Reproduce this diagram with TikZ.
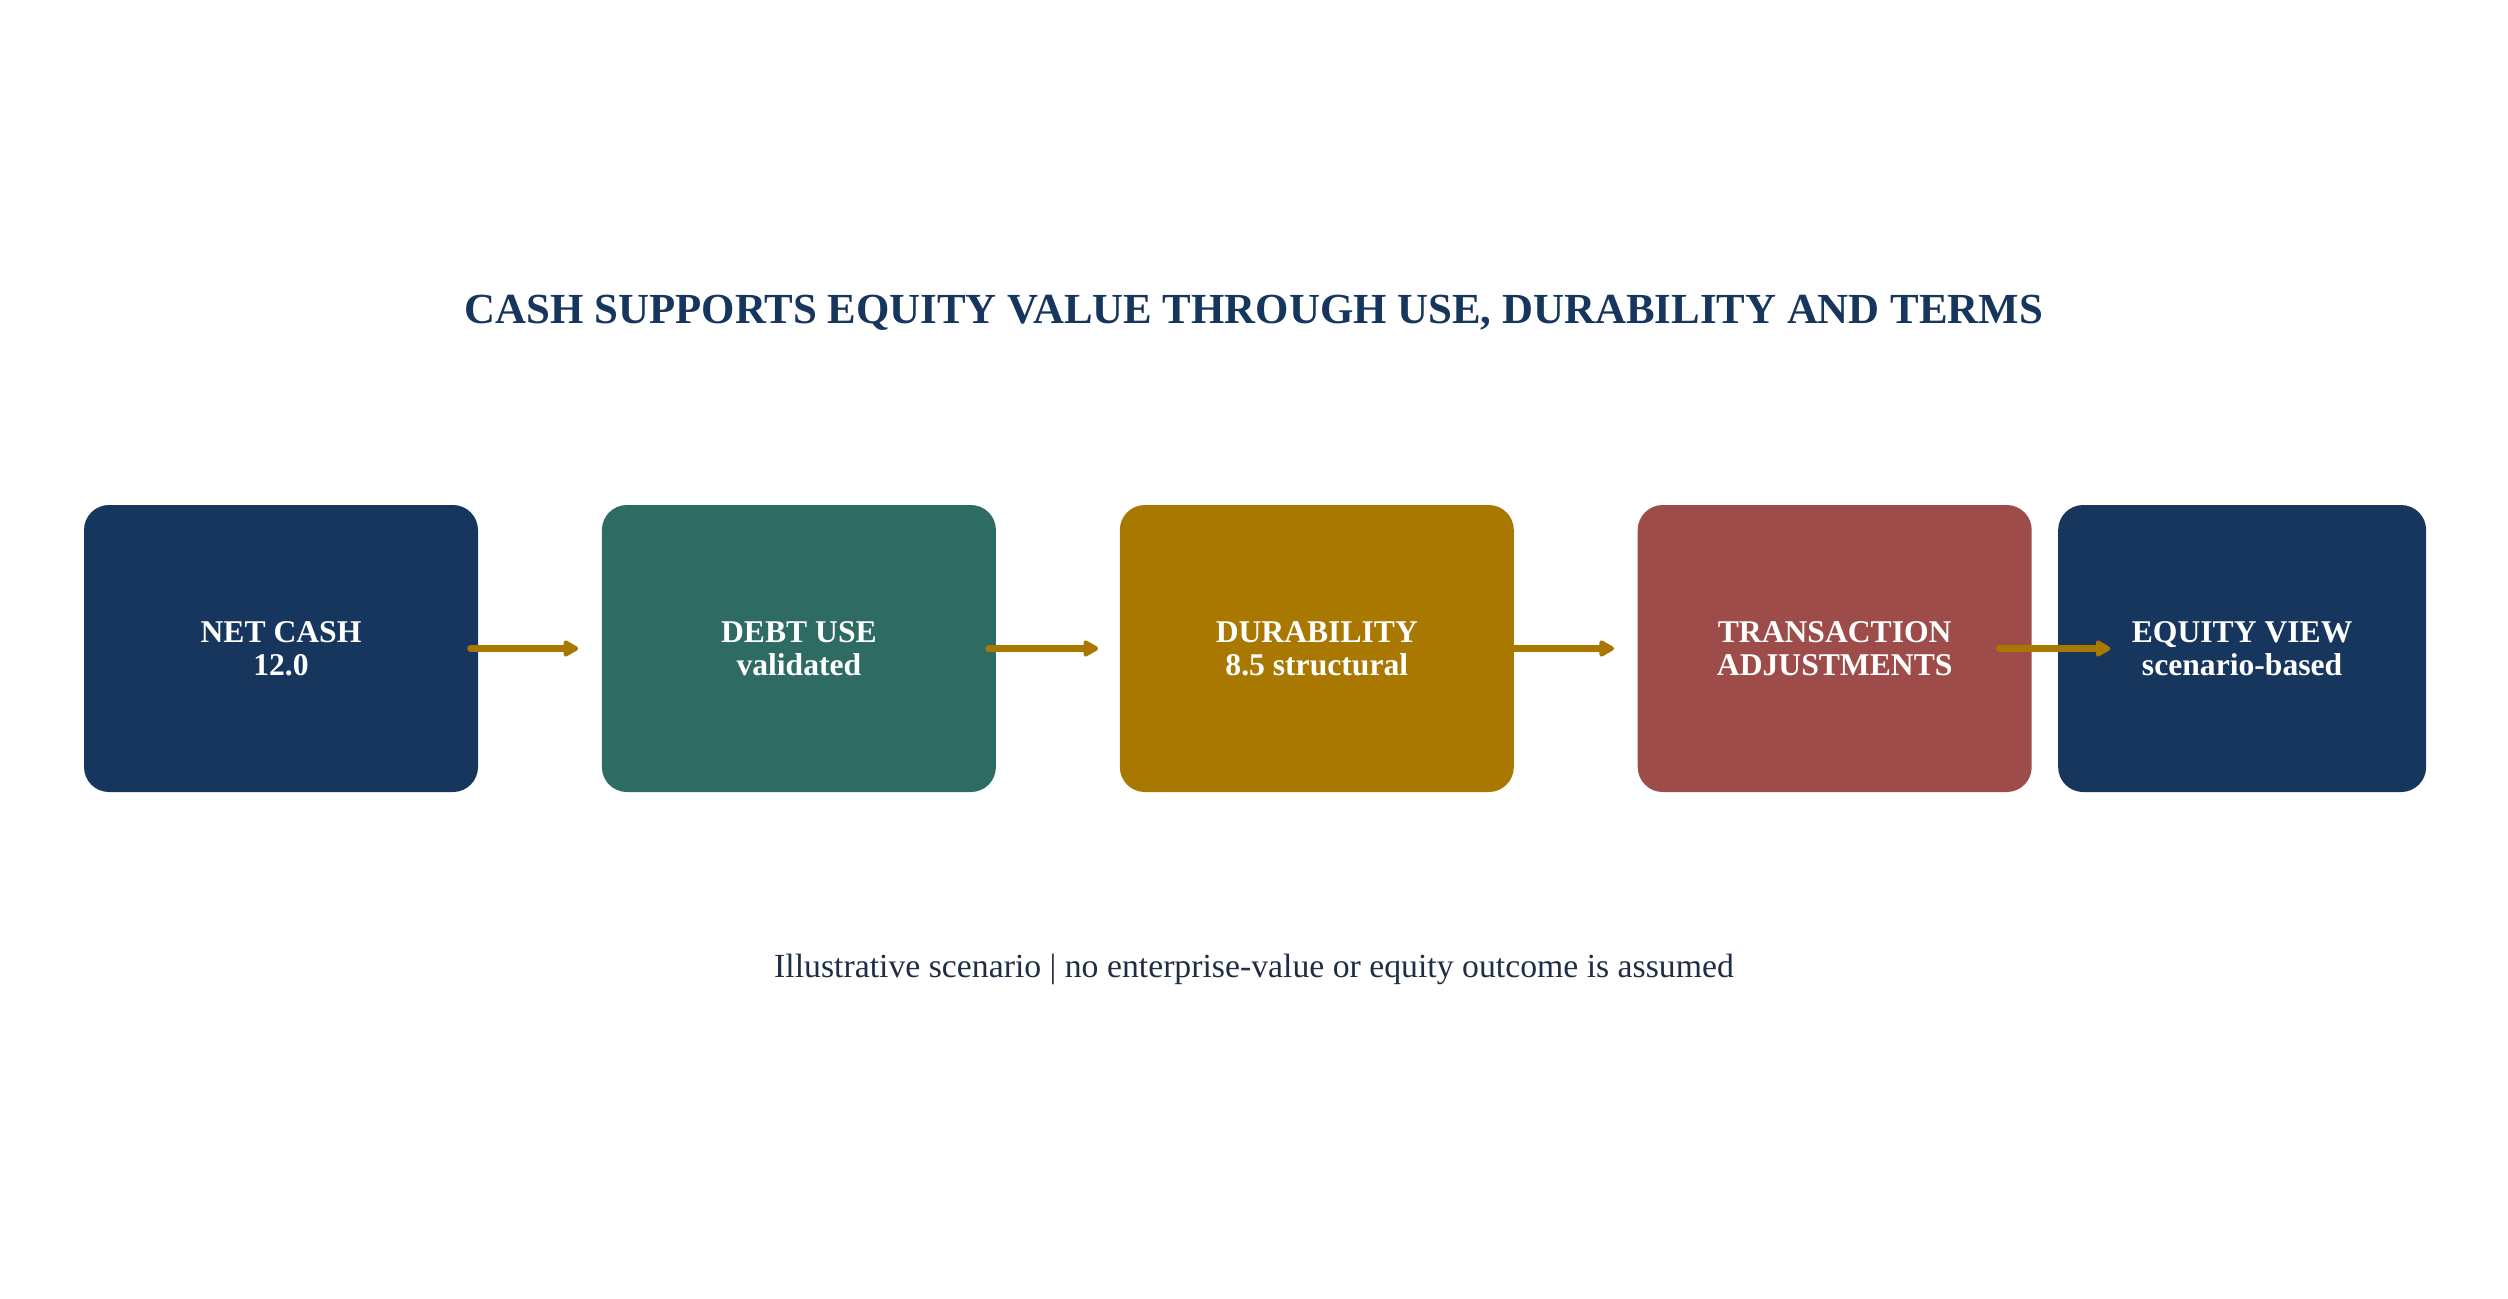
\documentclass[tikz,border=0pt]{standalone}
\usepackage{fontspec}
\setmainfont{Liberation Serif}
\usepackage{tikz}
\usetikzlibrary{arrows.meta,calc,positioning}

\definecolor{navy}{HTML}{17365D}
\definecolor{teal}{HTML}{2E6B62}
\definecolor{gold}{HTML}{A87800}
\definecolor{brick}{HTML}{9E4C49}
\definecolor{ink}{HTML}{1F2D45}

\begin{document}
\begin{tikzpicture}[
  box/.style={rounded corners=0.25cm, minimum width=3.94cm, minimum height=2.87cm, inner sep=0pt, align=center, text=white, font=\fontsize{9}{9.5}\selectfont\bfseries},
  flow/.style={draw=gold, line width=2pt, line cap=round, -{Triangle[length=0.17cm,width=0.18cm,round]}}
]
\useasboundingbox (0,0) rectangle (25.08,-12.98);

\node (title) at (12.54,-3.13) [text=navy, font=\fontsize{12.2}{14}\selectfont\bfseries]{CASH SUPPORTS EQUITY VALUE THROUGH USE, DURABILITY AND TERMS};

\node (cash) at (2.81,-6.485) [box, fill=navy]{NET CASH\\12.0};
\node (debt) [box, fill=teal, right=1.225cm of cash]{DEBT USE\\validated};
\node (dura) [box, fill=gold, right=1.225cm of debt]{DURABILITY\\8.5 structural};
\node (trans) [box, fill=brick, right=1.225cm of dura]{TRANSACTION\\ADJUSTMENTS};
\node (equity) [box, fill=navy, minimum width=3.68cm, right=0.25cm of trans]{EQUITY VIEW\\scenario-based};

\draw[flow] ([xshift=-0.08cm]cash.east) -- ([xshift=-0.23cm]debt.west);
\draw[flow] ([xshift=-0.08cm]debt.east) -- ([xshift=-0.21cm]dura.west);
\draw[flow] ([xshift=-0.08cm]dura.east) -- ([xshift=-0.23cm]trans.west);
\draw[flow] ([xshift=-0.33cm]trans.east) -- ([xshift=0.53cm]equity.west);

\node (note) at (12.54,-9.69) [text=ink, font=\fontsize{9.6}{12}\selectfont]{Illustrative scenario | no enterprise-value or equity outcome is assumed};

\end{tikzpicture}
\end{document}
